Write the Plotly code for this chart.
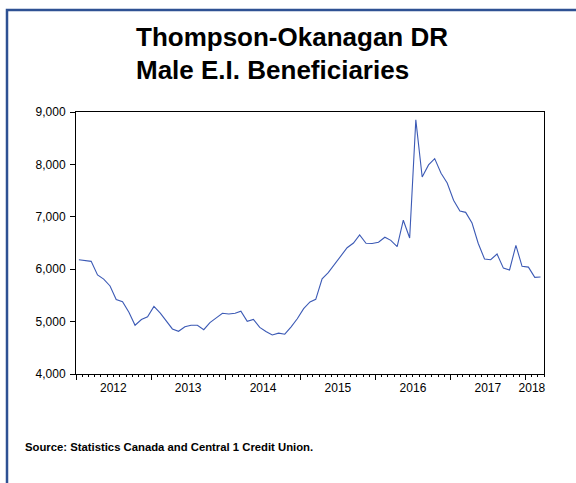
import plotly.graph_objects as go

# ---- data ----
start_month = "2012-01"
values = [
    6180, 6165, 6150, 5890, 5810, 5680, 5420, 5380, 5180, 4930, 5040, 5090,   # 2012
    5290, 5160, 5020, 4860, 4815, 4900, 4930, 4930, 4845, 4980, 5070, 5160,   # 2013
    5145, 5160, 5200, 5005, 5040, 4890, 4810, 4745, 4780, 4760, 4900, 5055,   # 2014
    5246, 5375, 5425, 5815, 5935, 6100, 6265, 6410, 6500, 6655, 6495, 6490,   # 2015
    6515, 6610, 6550, 6430, 6935, 6595, 8850, 7760, 7990, 8110, 7830, 7645,   # 2016
    7315, 7110, 7085, 6880, 6495, 6195, 6180, 6290, 6020, 5985, 6455, 6055,   # 2017
    6040, 5845, 5850,                                                          # 2018
]
year_labels = ["2012", "2013", "2014", "2015", "2016", "2017", "2018"]
y_ticks = [4000, 5000, 6000, 7000, 8000, 9000]

title_line1 = "Thompson-Okanagan DR"
title_line2 = "Male E.I. Beneficiaries"
source_text = "Source: Statistics Canada and Central 1 Credit Union."

# ---- derived x positions (mid-month dates) ----
y0, m0 = map(int, start_month.split("-"))
dates = []
for i in range(len(values)):
    yy = y0 + (m0 - 1 + i) // 12
    mm = (m0 - 1 + i) % 12 + 1
    dates.append(f"{yy}-{mm:02d}-15")
end_y = y0 + (m0 - 1 + len(values)) // 12
end_m = (m0 - 1 + len(values)) % 12 + 1
x_range = [f"{y0}-{m0:02d}-01", f"{end_y}-{end_m:02d}-01"]

label_pos = []
for lab in year_labels:
    yr = int(lab)
    if yr < end_y:
        label_pos.append(f"{yr}-07-01")
    else:
        label_pos.append(f"{yr}-02-01")

# ---- layout geometry ----
W, H = 576, 483
L, R, T, B = 76, 32, 112, 109
PW, PH = W - L - R, H - T - B

def px(x):
    return (x - L) / PW

def py(y):
    return 1 - (y - T) / PH

FONT = "Arial, Liberation Sans, sans-serif"

fig = go.Figure()
fig.add_trace(go.Scatter(
    x=dates, y=values, mode="lines",
    line=dict(color="#3C5AB5", width=1.1),
    hoverinfo="x+y", showlegend=False,
))
fig.add_trace(go.Scatter(
    x=dates, y=values, mode="lines", xaxis="x2",
    line=dict(color="rgba(0,0,0,0)", width=0),
    hoverinfo="skip", showlegend=False,
))

fig.update_layout(
    width=W, height=H,
    margin=dict(l=L, r=R, t=T, b=B, pad=0),
    paper_bgcolor="white", plot_bgcolor="white",
    font=dict(family=FONT, size=12, color="black"),
    xaxis=dict(
        type="date", range=x_range,
        tick0=x_range[0], dtick="M12",
        ticks="outside", ticklen=5, tickwidth=1, tickcolor="black",
        showticklabels=False,
        minor=dict(dtick="M1", ticks="outside", ticklen=2, tickcolor="black", tickwidth=1, showgrid=False),
        showgrid=False, zeroline=False,
        showline=True, linecolor="black", linewidth=1, mirror=True,
    ),
    xaxis2=dict(
        type="date", range=x_range, overlaying="x", anchor="y", side="bottom",
        tickmode="array", tickvals=label_pos, ticktext=year_labels,
        ticks="outside", ticklen=3, tickcolor="rgba(0,0,0,0)",
        showgrid=False, zeroline=False, showline=False,
        tickfont=dict(family=FONT, size=12, color="black"),
    ),
    yaxis=dict(
        range=[y_ticks[0], y_ticks[-1]],
        tickmode="array", tickvals=y_ticks, tickformat=",d",
        ticks="outside", ticklen=5, tickwidth=1, tickcolor="black",
        ticklabelstandoff=2,
        showgrid=False, zeroline=False,
        showline=True, linecolor="black", linewidth=1, mirror=True,
        tickfont=dict(family=FONT, size=12, color="black"),
    ),
    shapes=[dict(
        type="rect", xref="paper", yref="paper",
        x0=px(7), x1=px(620), y0=py(540), y1=py(10),
        line=dict(color="#2E5193", width=2.5), fillcolor="rgba(0,0,0,0)",
        layer="above",
    )],
    annotations=[
        dict(text=f"<b>{title_line1}</b>", xref="paper", yref="paper",
             x=px(134), y=py(37), xanchor="left", yanchor="middle",
             showarrow=False, font=dict(family=FONT, size=26, color="black")),
        dict(text=f"<b>{title_line2}</b>", xref="paper", yref="paper",
             x=px(134), y=py(70), xanchor="left", yanchor="middle",
             showarrow=False, font=dict(family=FONT, size=26, color="black")),
        dict(text=f"<b>{source_text}</b>", xref="paper", yref="paper",
             x=px(23), y=py(447), xanchor="left", yanchor="middle",
             showarrow=False, font=dict(family=FONT, size=11.3, color="black")),
    ],
)

fig.write_html(
    "out.html",
    config={"displayModeBar": False},
    post_script="document.body.style.margin='0';document.body.style.overflow='hidden';",
)
